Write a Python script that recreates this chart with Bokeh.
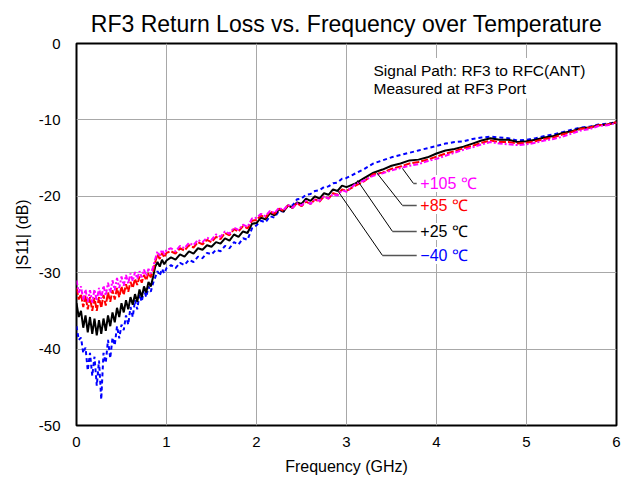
from bokeh.plotting import figure
from bokeh.models import Label, BoxAnnotation, FixedTicker, Title
from bokeh.embed import file_html
from bokeh.resources import INLINE

# ---------------- data ----------------
freq = [0.000, 0.025, 0.050, 0.075, 0.100, 0.125, 0.150, 0.175, 0.200, 0.225,
        0.250, 0.275, 0.300, 0.325, 0.350, 0.375, 0.400, 0.425, 0.450, 0.475,
        0.500, 0.525, 0.550, 0.575, 0.600, 0.625, 0.650, 0.675, 0.700, 0.725,
        0.750, 0.775, 0.800, 0.825, 0.850, 0.875, 0.900, 0.925, 0.950, 0.975,
        1.000,
        1.05, 1.10, 1.15, 1.20, 1.25, 1.30, 1.35, 1.40, 1.45, 1.50,
        1.55, 1.60, 1.65, 1.70, 1.75, 1.80, 1.85, 1.90, 1.95, 2.00,
        2.05, 2.10, 2.15, 2.20, 2.25, 2.30, 2.35, 2.40, 2.45, 2.50,
        2.55, 2.60, 2.65, 2.70, 2.75, 2.80, 2.85, 2.90, 2.95, 3.00,
        3.1, 3.2, 3.3, 3.4, 3.5, 3.6, 3.7, 3.8, 3.9, 4.0,
        4.1, 4.2, 4.3, 4.4, 4.5, 4.6, 4.7, 4.8, 4.9, 5.0,
        5.1, 5.2, 5.3, 5.4, 5.5, 5.6, 5.7, 5.8, 5.9, 6.0]

s11_p25 = [-34.0, -35.8, -35.0, -37.2, -35.6, -37.8, -35.8, -38.0, -36.0, -38.2,
           -36.2, -38.0, -36.0, -37.6, -35.6, -37.0, -35.2, -36.5, -34.6, -35.8,
           -34.0, -35.2, -33.6, -34.8, -33.2, -34.2, -32.8, -33.8, -32.2, -33.2,
           -31.8, -32.6, -31.2, -31.8, -30.6, -29.2, -28.6, -29.2, -28.3, -28.9,
           -28.4,
           -28.0, -28.3, -27.6, -27.9, -27.2, -27.5, -26.8, -27.0, -26.4, -26.6,
           -26.0, -26.2, -25.5, -25.8, -25.0, -25.3, -24.6, -24.8, -23.6, -23.5,
           -22.8, -23.0, -22.2, -22.5, -21.7, -22.0, -21.2, -21.5, -20.8, -21.0,
           -20.3, -20.6, -20.0, -20.3, -19.6, -19.8, -19.1, -19.3, -18.6, -18.8,
           -18.3, -17.6, -16.9, -16.5, -16.0, -15.7, -15.3, -15.2, -14.9, -14.4,
           -14.0, -13.8, -13.5, -13.1, -12.7, -12.4, -12.6, -12.6, -12.9, -12.8,
           -12.6, -12.3, -12.1, -11.7, -11.5, -11.1, -11.0, -10.7, -10.6, -10.3]

s11_p85 = [-32.0, -33.5, -32.8, -34.5, -33.0, -34.8, -33.2, -35.0, -33.3, -35.0,
           -33.2, -34.6, -32.9, -34.3, -32.6, -33.8, -32.3, -33.5, -32.0, -33.2,
           -31.8, -32.9, -31.5, -32.5, -31.2, -32.0, -30.8, -31.6, -30.5, -31.3,
           -30.3, -31.0, -30.0, -30.6, -29.8, -28.6, -27.6, -28.2, -27.4, -28.0,
           -27.4,
           -27.2, -27.5, -26.8, -27.1, -26.4, -26.7, -26.0, -26.3, -25.7, -26.0,
           -25.3, -25.6, -24.8, -25.1, -24.3, -24.6, -23.9, -24.2, -23.2, -23.1,
           -22.5, -22.8, -22.0, -22.3, -21.6, -21.9, -21.2, -21.5, -20.9, -21.3,
           -20.7, -21.0, -20.4, -20.7, -20.0, -20.3, -19.6, -19.8, -19.1, -19.3,
           -18.6, -18.0, -17.1, -16.9, -16.4, -16.1, -15.7, -15.5, -15.2, -14.8,
           -14.4, -14.1, -13.7, -13.4, -13.0, -12.7, -12.9, -12.9, -13.1, -13.0,
           -12.8, -12.5, -12.3, -11.9, -11.6, -11.2, -11.0, -10.7, -10.6, -10.3]

s11_p105 = [-31.0, -32.6, -31.8, -33.6, -32.2, -33.8, -32.3, -33.9, -32.2, -33.7,
            -32.0, -33.4, -31.7, -33.0, -31.3, -32.6, -31.0, -32.3, -30.7, -32.0,
            -30.5, -31.7, -30.3, -31.4, -30.1, -31.1, -29.9, -30.8, -29.8, -30.6,
            -29.6, -30.4, -29.5, -30.1, -29.3, -28.2, -27.2, -27.8, -27.0, -27.6,
            -27.0,
            -26.8, -27.2, -26.5, -26.8, -26.1, -26.4, -25.7, -26.0, -25.4, -25.7,
            -25.0, -25.3, -24.6, -24.9, -24.1, -24.4, -23.7, -24.0, -22.9, -22.8,
            -22.3, -22.6, -21.9, -22.2, -21.5, -21.8, -21.1, -21.5, -20.9, -21.2,
            -20.6, -21.0, -20.4, -20.6, -20.0, -20.3, -19.7, -19.9, -19.2, -19.4,
            -18.4, -17.9, -17.3, -17.0, -16.6, -16.3, -16.0, -15.8, -15.4, -15.1,
            -14.7, -14.3, -13.9, -13.6, -13.2, -12.9, -13.1, -13.2, -13.3, -13.2,
            -13.0, -12.7, -12.5, -12.2, -11.8, -11.4, -11.2, -10.8, -10.7, -10.4]

s11_m40 = [-37.0, -38.8, -38.5, -40.5, -39.8, -42.8, -40.5, -43.5, -41.0, -44.8,
           -41.5, -46.6, -40.5, -41.8, -38.8, -41.2, -38.5, -39.5, -37.0, -38.6,
           -36.8, -37.5, -35.6, -36.8, -34.5, -35.8, -33.6, -34.8, -32.8, -33.8,
           -32.2, -33.2, -31.8, -32.5, -31.4, -30.6, -29.8, -30.4, -29.5, -30.1,
           -29.4,
           -29.0, -29.4, -28.7, -29.0, -28.3, -28.6, -27.9, -28.1, -27.4, -27.6,
           -27.0, -27.2, -26.5, -26.8, -26.0, -26.3, -25.5, -25.7, -24.2, -23.8,
           -23.2, -23.4, -22.6, -22.8, -21.9, -22.0, -21.2, -21.2, -20.4, -20.3,
           -19.8, -19.7, -19.3, -19.2, -18.8, -18.7, -18.3, -18.2, -17.7, -17.6,
           -17.0, -16.4, -15.7, -15.3, -14.9, -14.6, -14.3, -14.0, -13.7, -13.4,
           -13.1, -12.9, -12.8, -12.5, -12.3, -12.2, -12.3, -12.4, -12.7, -12.6,
           -12.4, -12.1, -11.9, -11.6, -11.3, -11.0, -10.9, -10.6, -10.5, -10.3]

x_ticks = [0, 1, 2, 3, 4, 5, 6]
y_ticks = [0, -10, -20, -30, -40, -50]
y_tick_labels = {0: "0", -10: "-10", -20: "-20", -30: "-30", -40: "-40", -50: "-50"}

series_labels = ["+105 \u2103", "+85 \u2103", "+25 \u2103", "\u221240 \u2103"]
series_colors = ["#ff00ff", "#ff0000", "#000000", "#0000ff"]

# leader lines: (curve point) -> (elbow) -> (label end)
leaders = [
    [(3.622, -16.36), (3.744, -18.32), (3.78, -18.32)],
    [(3.333, -16.88), (3.622, -21.20), (3.78, -21.20)],
    [(3.122, -17.93), (3.511, -24.60), (3.78, -24.60)],
    [(2.900, -19.24), (3.400, -27.75), (3.78, -27.75)],
]
label_pos = [(3.82, -18.32), (3.82, -21.20), (3.82, -24.60), (3.82, -27.75)]

FONT = "Liberation Sans"

p = figure(frame_width=540, frame_height=382,
           min_border_left=76, min_border_right=8, min_border_top=43, min_border_bottom=56,
           x_range=(0, 6), y_range=(-50, 0),
           output_backend="svg", toolbar_location=None,
           background_fill_color="white", border_fill_color="white")

p.title = Title(text="RF3 Return Loss vs. Frequency over Temperature",
                align="center", text_font=FONT, text_font_size="23px",
                text_font_style="normal", text_color="black", standoff=14)

p.outline_line_color = "black"
p.outline_line_width = 2

for ax in (p.xaxis[0], p.yaxis[0]):
    ax.axis_line_color = None
    ax.major_tick_line_color = None
    ax.minor_tick_line_color = None
    ax.major_label_text_font = FONT
    ax.major_label_text_font_size = "15px"
    ax.major_label_text_color = "black"
    ax.axis_label_text_font = FONT
    ax.axis_label_text_font_size = "16px"
    ax.axis_label_text_font_style = "normal"
    ax.axis_label_text_color = "black"

p.xaxis.ticker = FixedTicker(ticks=x_ticks)
p.yaxis.ticker = FixedTicker(ticks=y_ticks)
p.yaxis.major_label_overrides = y_tick_labels
p.xaxis.axis_label = "Frequency (GHz)"
p.yaxis.axis_label = "|S11| (dB)"
p.xaxis.major_label_standoff = 5
p.yaxis.major_label_standoff = 10
p.xaxis.axis_label_standoff = 8
p.yaxis.axis_label_standoff = 5

p.xgrid.grid_line_color = "#a8a8a8"
p.ygrid.grid_line_color = "#a8a8a8"
p.xgrid.grid_line_width = 1
p.ygrid.grid_line_width = 1

# curves (draw blue first, black, red, magenta)
p.line(freq, s11_m40, line_color="#0000ff", line_width=2, line_dash="4 3")
p.line(freq, s11_p25, line_color="#000000", line_width=2)
p.line(freq, s11_p85, line_color="#ff0000", line_width=2, line_dash="7 2")
p.line(freq, s11_p105, line_color="#ff00ff", line_width=2, line_dash="5 2 2 2")

# leader lines
for pts in leaders:
    p.line([q[0] for q in pts[:2]], [q[1] for q in pts[:2]], line_color="black", line_width=1)
    p.line([q[0] for q in pts[1:]], [q[1] for q in pts[1:]], line_color="#555555", line_width=1.5)

for (lx, ly), txt, col in zip(label_pos, series_labels, series_colors):
    p.add_layout(Label(x=lx, y=ly, text=txt, text_color=col, text_font=FONT,
                       text_font_size="16px", text_baseline="middle", text_align="left",
                       background_fill_color="white"))

# annotation text box
p.add_layout(BoxAnnotation(left=3.21, right=5.85, top=-1.9, bottom=-7.2,
                           fill_color="white", fill_alpha=1.0, line_color=None))
p.add_layout(Label(x=3.30, y=-3.55, text="Signal Path: RF3 to RFC(ANT)", text_font=FONT,
                   text_font_size="15.5px", text_baseline="middle", text_color="black"))
p.add_layout(Label(x=3.30, y=-5.9, text="Measured at RF3 Port", text_font=FONT,
                   text_font_size="15.5px", text_baseline="middle", text_color="black"))

open("out.html", "w").write(file_html(p, INLINE))
